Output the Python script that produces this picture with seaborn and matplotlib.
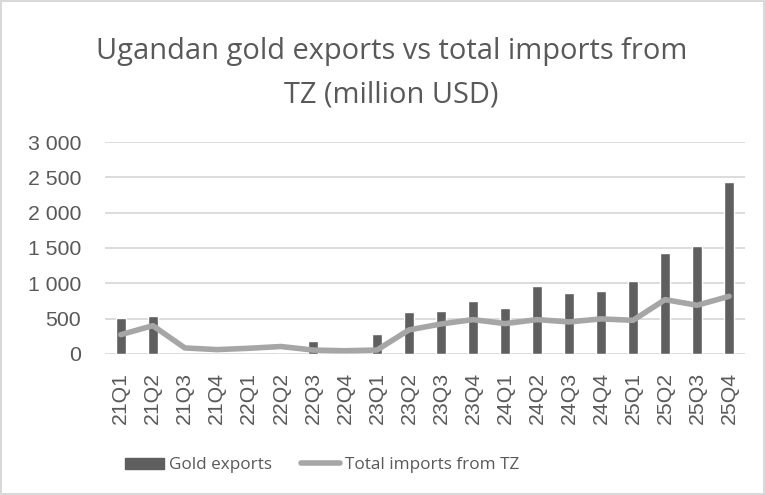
import matplotlib

matplotlib.use("Agg")
import matplotlib.pyplot as plt
from matplotlib.lines import Line2D
from matplotlib.patches import Patch
from matplotlib.ticker import FuncFormatter
import pandas as pd
import seaborn as sns

QUARTERS = [
    "21Q1", "21Q2", "21Q3", "21Q4", "22Q1", "22Q2", "22Q3", "22Q4",
    "23Q1", "23Q2", "23Q3", "23Q4", "24Q1", "24Q2", "24Q3", "24Q4",
    "25Q1", "25Q2", "25Q3", "25Q4",
]
GOLD_EXPORTS = [
    505, 530, 0, 0, 0, 0, 180, 0,
    280, 590, 612, 755, 655, 968, 868, 886,
    1030, 1425, 1525, 2435,
]
TZ_IMPORTS = [
    273, 400, 85, 61, 80, 105, 55, 45,
    55, 340, 424, 486, 429, 486, 453, 496,
    476, 769, 689, 816,
]

BAR_COLOR = "#5f5f5f"
LINE_COLOR = "#a6a6a6"
TEXT_COLOR = "#595959"
GRID_COLOR = "#d9d9d9"

sns.set_theme(style="white")
plt.rcParams["font.family"] = ["Open Sans", "DejaVu Sans"]

data = pd.DataFrame(
    {"quarter": QUARTERS, "gold": GOLD_EXPORTS, "imports": TZ_IMPORTS}
)

fig = plt.figure(figsize=(7.65, 4.95), dpi=100, edgecolor=GRID_COLOR, linewidth=1.5)
ax = fig.add_axes([0.137, 0.285, 0.837, 0.428])

sns.barplot(data=data, x="quarter", y="gold", color=BAR_COLOR, width=0.31,
            saturation=1, ax=ax, zorder=2)
sns.pointplot(data=data, x="quarter", y="imports", color=LINE_COLOR,
              errorbar=None, markers="", linewidth=4, ax=ax, zorder=3)
for line in ax.lines:
    line.set_solid_capstyle("round")
    line.set_solid_joinstyle("round")

ax.set_ylim(0, 3000)
ax.set_yticks(range(0, 3001, 500))
ax.yaxis.set_major_formatter(FuncFormatter(lambda v, _: f"{int(v):,}".replace(",", " ")))
ax.grid(axis="y", color=GRID_COLOR, linewidth=1.3, zorder=0)
ax.set_axisbelow(True)
for side in ["top", "right", "left", "bottom"]:
    ax.spines[side].set_visible(False)
ax.tick_params(axis="both", length=0, labelsize=15.3, colors=TEXT_COLOR)
ax.tick_params(axis="y", pad=17)
ax.tick_params(axis="x", rotation=90, pad=13)
for label in ax.get_xticklabels() + ax.get_yticklabels():
    label.set_fontfamily(["Liberation Sans", "DejaVu Sans"])
ax.set_xlabel("")
ax.set_ylabel("")

fig.text(0.512, 0.895, "Ugandan gold exports vs total imports from",
         ha="center", va="center", fontsize=20.9, color=TEXT_COLOR)
fig.text(0.512, 0.808, "TZ (million USD)",
         ha="center", va="center", fontsize=20.9, color=TEXT_COLOR)

handles = [
    Patch(facecolor=BAR_COLOR, edgecolor=BAR_COLOR),
    Line2D([0], [0], color=LINE_COLOR, linewidth=4, solid_capstyle="round"),
]
fig.legend(handles, ["Gold exports", "Total imports from TZ"], loc="center",
           bbox_to_anchor=(0.421, 0.06), ncol=2, frameon=False, fontsize=12.3,
           labelcolor=TEXT_COLOR, handlelength=2.3, handleheight=0.65,
           handletextpad=0.3, columnspacing=1.7)

fig.savefig("out.png", dpi=100)
